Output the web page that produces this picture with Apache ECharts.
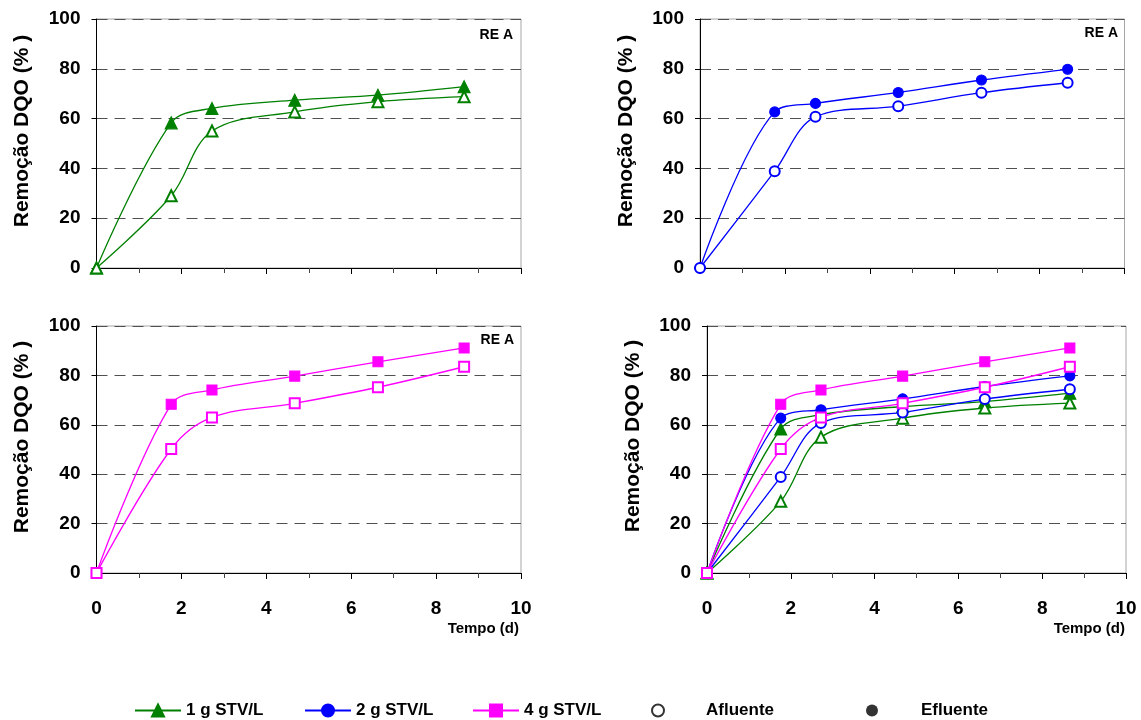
<!DOCTYPE html>
<html>
<head>
<meta charset="utf-8">
<script src="https://cdn.jsdelivr.net/npm/echarts@6/dist/echarts.min.js"></script>
<style>html,body{margin:0;padding:0;background:#fff;}#c{width:1141px;height:720px;}</style>
</head>
<body>
<div id="c"></div>
<script>
// ---- data ----
const tempo = [0, 1.76, 2.72, 4.67, 6.63, 8.66];
const ef1 = [0, 58.3, 64.1, 67.4, 69.4, 72.8];
const af1 = [0, 29.0, 55.0, 62.7, 66.8, 68.8];
const ef2 = [0, 62.7, 66.1, 70.5, 75.5, 79.8];
const af2 = [0, 38.9, 60.7, 65.0, 70.4, 74.4];
const ef4 = [0, 68.3, 74.1, 79.7, 85.5, 91.1];
const af4 = [0, 50.2, 63.0, 68.7, 75.2, 83.5];
const yTicks = [0, 20, 40, 60, 80, 100];
const xTicks = [0, 2, 4, 6, 8, 10];
const names = ['1 g STV/L', '2 g STV/L', '4 g STV/L'];
const legendExtra = ['Afluente', 'Efluente'];
const yTitle = 'Remoção DQO (% )';
const xTitle = 'Tempo (d)';
const panelTag = 'RE A';

const FONT = '"Liberation Sans", Arial, sans-serif';
const GREEN = '#008000', BLUE = '#0000FF', MAG = '#FF00FF';

const grids = [
  {left: 96.5, top: 19, right: 620, bottom: 452},
  {left: 700, top: 19, right: 16.5, bottom: 452},
  {left: 96.5, top: 326, right: 620, bottom: 147},
  {left: 707, top: 326, right: 15, bottom: 147}
].map(g => Object.assign(g, {show: true, borderColor: '#a6a6a6', borderWidth: 1, backgroundColor: 'transparent'}));

function xAx(i, showLabels) {
  return {
    type: 'value', gridIndex: i, min: xTicks[0], max: xTicks[xTicks.length - 1], interval: 2,
    axisLine: {show: true, onZero: false, lineStyle: {color: '#000', width: 1}},
    axisTick: {show: true, inside: false, length: 6, lineStyle: {color: '#000'}},
    minorTick: {show: true, splitNumber: 2, length: 5, lineStyle: {color: '#444'}},
    splitLine: {show: false},
    axisLabel: {show: showLabels, margin: 26, color: '#000', fontFamily: FONT, fontWeight: 'bold', fontSize: 19}
  };
}
function yAx(i) {
  return {
    type: 'value', gridIndex: i, min: yTicks[0], max: yTicks[yTicks.length - 1], interval: 20,
    axisLine: {show: true, onZero: false, lineStyle: {color: '#000', width: 1}},
    axisTick: {show: true, inside: false, length: 5, lineStyle: {color: '#000'}},
    splitLine: {show: true, lineStyle: {color: '#505050', width: 1, type: [11, 7]}},
    axisLabel: {margin: 16, color: '#000', fontFamily: FONT, fontWeight: 'bold', fontSize: 19}
  };
}

function pts(arr) { return tempo.map((t, k) => [t, arr[k]]); }
function mk(name, arr, color, symbol, size, gi) {
  return {
    type: 'line', name: name, xAxisIndex: gi, yAxisIndex: gi, data: pts(arr),
    smooth: 0.35, clip: false, symbol: symbol, symbolSize: size,
    lineStyle: {color: color, width: 1.3},
    itemStyle: {color: color, borderColor: color, borderWidth: 1.1},
    emphasis: {disabled: true}
  };
}
function panelSeries(gi, which) {
  const s = [];
  if (which.includes(1)) {
    s.push(mk(names[0], ef1, GREEN, 'triangle', 12, gi));
    s.push(mk(names[0], af1, GREEN, 'emptyTriangle', 11, gi));
  }
  if (which.includes(2)) {
    s.push(mk(names[1], ef2, BLUE, 'circle', 10, gi));
    s.push(mk(names[1], af2, BLUE, 'emptyCircle', 10, gi));
  }
  if (which.includes(4)) {
    s.push(mk(names[2], ef4, MAG, 'rect', 10, gi));
    s.push(mk(names[2], af4, MAG, 'emptyRect', 10, gi));
  }
  return s;
}

const series = [].concat(
  panelSeries(0, [1]), panelSeries(1, [2]), panelSeries(2, [4]), panelSeries(3, [1, 2, 4]),
  [
    {type: 'scatter', name: legendExtra[0], xAxisIndex: 0, yAxisIndex: 0, data: [], symbol: 'emptyCircle', itemStyle: {color: '#000', borderColor: '#000', borderWidth: 1.2}},
    {type: 'scatter', name: legendExtra[1], xAxisIndex: 0, yAxisIndex: 0, data: [], symbol: 'circle', itemStyle: {color: '#000', borderColor: '#000'}}
  ]
);

const legendText = {color: '#000', fontFamily: FONT, fontWeight: 'bold', fontSize: 17};
function lg(name, left, w, h, pad) {
  return {
    data: [name], left: left, top: 702, padding: 0, itemWidth: w, itemHeight: h, selectedMode: false,
    textStyle: Object.assign({}, legendText, pad ? {padding: [0, 0, 0, pad]} : {})
  };
}
const legends = [
  lg(names[0], 134, 46, 15, 0),
  lg(names[1], 304, 46, 15, 0),
  lg(names[2], 472, 46, 15, 0),
  lg(legendExtra[0], 651, 12, 12, 37),
  lg(legendExtra[1], 866, 12, 12, 38)
];

function vText(x, y) {
  return {type: 'text', x: x, y: y, rotation: Math.PI / 2, silent: true,
    style: {text: yTitle, textAlign: 'center', textVerticalAlign: 'middle', fill: '#000', font: 'bold 21px ' + FONT}};
}
function tText(txt, x, y, size) {
  return {type: 'text', x: x, y: y, silent: true,
    style: {text: txt, textAlign: 'right', textVerticalAlign: 'middle', fill: '#000', font: 'bold ' + size + 'px ' + FONT}};
}

const option = {
  animation: false,
  backgroundColor: '#fff',
  grid: grids,
  xAxis: [xAx(0, false), xAx(1, false), xAx(2, true), xAx(3, true)],
  yAxis: [yAx(0), yAx(1), yAx(2), yAx(3)],
  legend: legends,
  series: series,
  graphic: [
    vText(22, 131), vText(626, 131), vText(22, 437), vText(633, 436),
    tText(panelTag, 513, 35, 14), tText(panelTag, 1118, 33, 14), tText(panelTag, 514, 340, 14),
    tText(xTitle, 519, 629, 15), tText(xTitle, 1125, 629, 15)
  ]
};
const chart = echarts.init(document.getElementById('c'), null, {renderer: 'canvas'});
chart.setOption(option);
</script>
</body>
</html>
